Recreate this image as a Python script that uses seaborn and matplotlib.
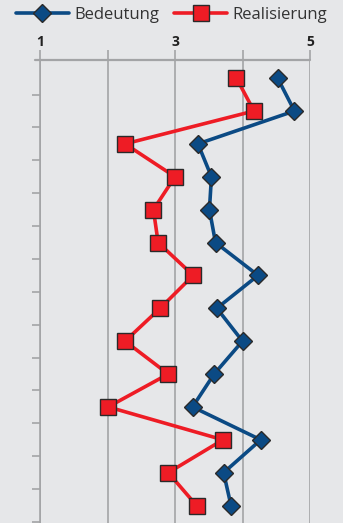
import numpy as np
import pandas as pd
import matplotlib
matplotlib.use("Agg")
import matplotlib.pyplot as plt
import seaborn as sns
from matplotlib.lines import Line2D

items = list(range(1, 15))
bedeutung = [4.52, 4.77, 3.34, 3.54, 3.51, 3.60, 4.23, 3.62, 4.00, 3.58, 3.26, 4.27, 3.72, 3.83]
realisierung = [3.91, 4.17, 2.26, 3.00, 2.68, 2.75, 3.27, 2.78, 2.26, 2.90, 2.01, 3.71, 2.90, 3.32]
series_names = ["Bedeutung", "Realisierung"]
xticks = [1, 2, 3, 4, 5]
xticklabels = ["1", "", "3", "", "5"]

sns.set_theme(style="white")
plt.rcParams['font.family'] = ['Open Sans', 'DejaVu Sans']

bg = "#e6e7e9"
grid = "#a3a4a6"
blue = "#0b4a84"
red = "#ee1c25"
edge = "#2a2a2a"

df = pd.DataFrame({
    "item": items * 2,
    "value": bedeutung + realisierung,
    "serie": [series_names[0]] * len(items) + [series_names[1]] * len(items),
})

fig = plt.figure(figsize=(3.43, 5.23), dpi=100, facecolor=bg)
ax = fig.add_axes([40/343, 0.0, 270/343, (523 - 60)/523])
ax.set_facecolor(bg)

sns.lineplot(data=df, x="value", y="item", hue="serie", style="serie",
             palette={series_names[0]: blue, series_names[1]: red},
             markers={series_names[0]: "D", series_names[1]: "s"},
             dashes=False, sort=False, estimator=None, orient="y",
             linewidth=2.6, ax=ax, legend=False, zorder=3)

for line, ms in zip(ax.lines, [9, 11.5]):
    line.set_markersize(ms)
    line.set_markeredgecolor(edge)
    line.set_markeredgewidth(1.0)
    line.set_clip_on(False)

ax.set_xlim(1, 5)
ax.set_ylim(14.53, 0.45)
ax.xaxis.tick_top()
ax.set_xticks(xticks)
ax.set_xticklabels(xticklabels, fontweight="bold", fontsize=10, color="#222222")
ax.tick_params(axis="x", direction="out", length=7, width=1.2, color=grid, pad=1, top=True)
ax.set_yticks(np.arange(1.5, 15.5, 1.0))
ax.set_yticklabels([])
ax.tick_params(axis="y", direction="out", length=6, width=1.2, color=grid, left=True)
for x in xticks:
    ax.axvline(x, color=grid, lw=1.2, zorder=1)
ax.plot([0.93, 5], [0.45, 0.45], color=grid, lw=1.6, clip_on=False, zorder=2)
for s in ["right", "bottom", "top"]:
    ax.spines[s].set_visible(False)
ax.spines["left"].set_color(grid)
ax.spines["left"].set_linewidth(1.2)
ax.set_xlabel("")
ax.set_ylabel("")

handles = [
    Line2D([], [], color=blue, lw=2.6, marker="D", ms=9, mec=edge, mew=1.0),
    Line2D([], [], color=red, lw=2.6, marker="s", ms=11.5, mec=edge, mew=1.0),
]
fig.legend(handles, series_names, loc="center", bbox_to_anchor=(0.5, 1 - 15/523),
           ncol=2, frameon=False, fontsize=12, handlelength=3.2, handletextpad=0.3,
           columnspacing=0.9, labelcolor="#333333")

fig.savefig("out.png", dpi=100, facecolor=bg)
